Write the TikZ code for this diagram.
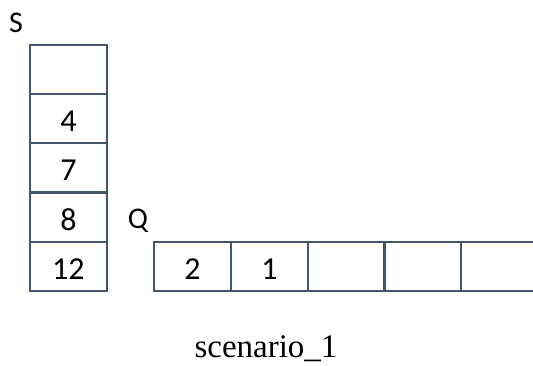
\documentclass[tikz,border=0pt]{standalone}
\usepackage{fontspec}
\setmainfont{Carlito}
\newfontfamily\capfont{Liberation Serif}
\definecolor{linec}{HTML}{44546A}
\begin{document}
\begin{tikzpicture}[x=1pt,y=-1pt,
  cell/.style={draw=linec,line width=1.8pt,minimum width=77pt,minimum height=49pt,inner sep=0pt,
    text height=26pt,text depth=0pt,font=\fontsize{32}{32}\selectfont,anchor=north west},
  lbl/.style={font=\fontsize{30}{30}\selectfont,inner sep=0pt,anchor=base}]
\useasboundingbox (0,0) rectangle (533,365);
\begin{scope}
\clip (0,0) rectangle (533,365);
\node[cell] (s0) at (29,44) {};
\node[cell] (s1) at (29,93) {4};
\node[cell] (s2) at (29,142) {7};
\node[cell] (s3) at (29,192) {8};
\node[cell] (s4) at (29,241) {12};
\node[cell] (q0) at (153,241) {2};
\node[cell] (q1) at (230,241) {1};
\node[cell] (q2) at (307,241) {};
\node[cell] (q3) at (383,241) {};
\node[cell] (q4) at (460,241) {};
\end{scope}
\node[lbl] (S) at (16,32) {S};
\node[lbl] (Q) at (138,228) {Q};
\node[font=\capfont\fontsize{33}{33}\selectfont,inner sep=0pt,anchor=base] (cap) at (266,357) {scenario\_1};
\end{tikzpicture}
\end{document}
